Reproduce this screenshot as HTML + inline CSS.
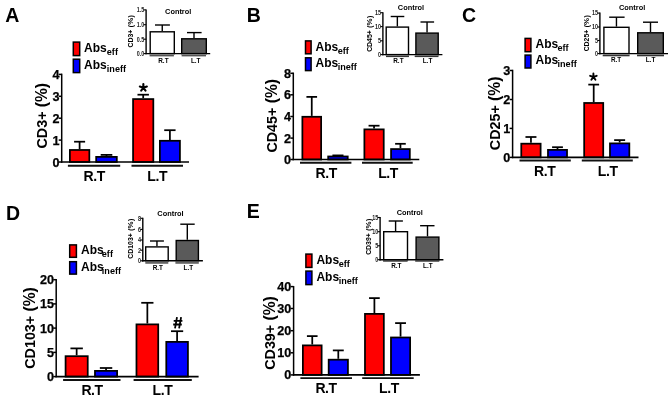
<!DOCTYPE html>
<html><head><meta charset="utf-8"><style>
html,body{margin:0;padding:0;background:#fff;width:669px;height:398px;overflow:hidden}
svg{display:block;font-family:"Liberation Sans", sans-serif;will-change:transform}
</style></head><body>
<svg width="669" height="398" viewBox="0 0 669 398">
<rect width="669" height="398" fill="#fff"/>
<line x1="79.6" y1="149.1" x2="79.6" y2="141.7" stroke="#000" stroke-width="1.75"/>
<line x1="74.09" y1="141.7" x2="85.11" y2="141.7" stroke="#000" stroke-width="1.75"/>
<rect x="69.88" y="149.97" width="19.45" height="12.03" fill="#ff0000" stroke="#000" stroke-width="1.75"/>
<line x1="106.5" y1="156" x2="106.5" y2="154.9" stroke="#000" stroke-width="1.75"/>
<line x1="100.68" y1="154.9" x2="112.32" y2="154.9" stroke="#000" stroke-width="1.75"/>
<rect x="96.17" y="156.88" width="20.65" height="5.12" fill="#0000ff" stroke="#000" stroke-width="1.75"/>
<line x1="143.2" y1="98.2" x2="143.2" y2="94.7" stroke="#000" stroke-width="1.75"/>
<line x1="137.48" y1="94.7" x2="148.92" y2="94.7" stroke="#000" stroke-width="1.75"/>
<rect x="133.07" y="99.08" width="20.25" height="62.92" fill="#ff0000" stroke="#000" stroke-width="1.75"/>
<line x1="169.9" y1="139.9" x2="169.9" y2="130.2" stroke="#000" stroke-width="1.75"/>
<line x1="164.23" y1="130.2" x2="175.57" y2="130.2" stroke="#000" stroke-width="1.75"/>
<rect x="159.88" y="140.78" width="20.05" height="21.22" fill="#0000ff" stroke="#000" stroke-width="1.75"/>
<line x1="61.7" y1="73.65" x2="61.7" y2="162.75" stroke="#000" stroke-width="1.5"/>
<line x1="60.95" y1="162" x2="189" y2="162" stroke="#000" stroke-width="1.6"/>
<line x1="58.7" y1="162" x2="61.7" y2="162" stroke="#000" stroke-width="1.5"/>
<text x="59.4" y="166.5" font-size="12.6" font-weight="bold" text-anchor="end" stroke="#000" stroke-width="0.25">0</text>
<line x1="58.7" y1="140.1" x2="61.7" y2="140.1" stroke="#000" stroke-width="1.5"/>
<text x="59.4" y="144.6" font-size="12.6" font-weight="bold" text-anchor="end" stroke="#000" stroke-width="0.25">1</text>
<line x1="58.7" y1="118.2" x2="61.7" y2="118.2" stroke="#000" stroke-width="1.5"/>
<text x="59.4" y="122.7" font-size="12.6" font-weight="bold" text-anchor="end" stroke="#000" stroke-width="0.25">2</text>
<line x1="58.7" y1="96.3" x2="61.7" y2="96.3" stroke="#000" stroke-width="1.5"/>
<text x="59.4" y="100.8" font-size="12.6" font-weight="bold" text-anchor="end" stroke="#000" stroke-width="0.25">3</text>
<line x1="58.7" y1="74.4" x2="61.7" y2="74.4" stroke="#000" stroke-width="1.5"/>
<text x="59.4" y="78.9" font-size="12.6" font-weight="bold" text-anchor="end" stroke="#000" stroke-width="0.25">4</text>
<line x1="67.9" y1="165.8" x2="120.2" y2="165.8" stroke="#111" stroke-width="1.9"/>
<line x1="131.5" y1="165.8" x2="183" y2="165.8" stroke="#111" stroke-width="1.9"/>
<text x="94.2" y="180.5" font-size="14" font-weight="bold" text-anchor="middle" letter-spacing="-0.4">R.T</text>
<text x="157.2" y="180.5" font-size="14" font-weight="bold" text-anchor="middle" letter-spacing="-0.4">L.T</text>
<text transform="translate(47.2,115.7) rotate(-90)" font-size="14.3" font-weight="bold" text-anchor="middle">CD3+<tspan font-size="15.6"> (%)</tspan></text>
<rect x="73.3" y="42.1" width="6.4" height="13.5" fill="#ff0000" stroke="#000" stroke-width="1.5"/>
<rect x="73.3" y="59.2" width="6.4" height="13.4" fill="#0000ff" stroke="#000" stroke-width="1.5"/>
<text x="84.1" y="51.7" font-size="12" font-weight="bold" text-anchor="start" >Abs</text>
<text x="106.8" y="54.8" font-size="9.1" font-weight="bold" text-anchor="start" >eff</text>
<text x="84.1" y="68.5" font-size="12" font-weight="bold" text-anchor="start" >Abs</text>
<text x="106.8" y="71.6" font-size="9.1" font-weight="bold" text-anchor="start" >ineff</text>
<text x="5.2" y="22" font-size="19.5" font-weight="bold" text-anchor="start" >A</text>
<path d="M143.35 87.75 L143.35 84.05 M143.35 87.75 L146.87 86.61 M143.35 87.75 L139.83 86.61 M143.35 87.75 L145.52 90.74 M143.35 87.75 L141.18 90.74" stroke="#000" stroke-width="2.1" stroke-linecap="round" fill="none"/>
<line x1="311.75" y1="115.9" x2="311.75" y2="96.9" stroke="#000" stroke-width="1.75"/>
<line x1="306.42" y1="96.9" x2="317.08" y2="96.9" stroke="#000" stroke-width="1.75"/>
<rect x="302.38" y="116.78" width="18.75" height="42.72" fill="#ff0000" stroke="#000" stroke-width="1.75"/>
<line x1="337.95" y1="155.6" x2="337.95" y2="155.4" stroke="#000" stroke-width="1.75"/>
<line x1="332.41" y1="155.4" x2="343.49" y2="155.4" stroke="#000" stroke-width="1.75"/>
<rect x="328.18" y="156.47" width="19.55" height="3.03" fill="#0000ff" stroke="#000" stroke-width="1.75"/>
<line x1="374.05" y1="128.5" x2="374.05" y2="125.7" stroke="#000" stroke-width="1.75"/>
<line x1="368.56" y1="125.7" x2="379.54" y2="125.7" stroke="#000" stroke-width="1.75"/>
<rect x="364.38" y="129.38" width="19.35" height="30.12" fill="#ff0000" stroke="#000" stroke-width="1.75"/>
<line x1="400.45" y1="148.2" x2="400.45" y2="143.8" stroke="#000" stroke-width="1.75"/>
<line x1="395.12" y1="143.8" x2="405.78" y2="143.8" stroke="#000" stroke-width="1.75"/>
<rect x="391.07" y="149.07" width="18.75" height="10.43" fill="#0000ff" stroke="#000" stroke-width="1.75"/>
<line x1="293.3" y1="72.55" x2="293.3" y2="160.25" stroke="#000" stroke-width="1.5"/>
<line x1="292.55" y1="159.5" x2="419.3" y2="159.5" stroke="#000" stroke-width="1.6"/>
<line x1="290.3" y1="159.5" x2="293.3" y2="159.5" stroke="#000" stroke-width="1.5"/>
<text x="291" y="164" font-size="12.6" font-weight="bold" text-anchor="end" stroke="#000" stroke-width="0.25">0</text>
<line x1="290.3" y1="138.1" x2="293.3" y2="138.1" stroke="#000" stroke-width="1.5"/>
<text x="291" y="142.6" font-size="12.6" font-weight="bold" text-anchor="end" stroke="#000" stroke-width="0.25">2</text>
<line x1="290.3" y1="116.5" x2="293.3" y2="116.5" stroke="#000" stroke-width="1.5"/>
<text x="291" y="121" font-size="12.6" font-weight="bold" text-anchor="end" stroke="#000" stroke-width="0.25">4</text>
<line x1="290.3" y1="94.8" x2="293.3" y2="94.8" stroke="#000" stroke-width="1.5"/>
<text x="291" y="99.3" font-size="12.6" font-weight="bold" text-anchor="end" stroke="#000" stroke-width="0.25">6</text>
<line x1="290.3" y1="73.3" x2="293.3" y2="73.3" stroke="#000" stroke-width="1.5"/>
<text x="291" y="77.8" font-size="12.6" font-weight="bold" text-anchor="end" stroke="#000" stroke-width="0.25">8</text>
<line x1="300" y1="162.8" x2="351.4" y2="162.8" stroke="#111" stroke-width="1.9"/>
<line x1="362" y1="162.8" x2="412.7" y2="162.8" stroke="#111" stroke-width="1.9"/>
<text x="326.2" y="178" font-size="14" font-weight="bold" text-anchor="middle" letter-spacing="-0.4">R.T</text>
<text x="388.1" y="178" font-size="14" font-weight="bold" text-anchor="middle" letter-spacing="-0.4">L.T</text>
<text transform="translate(277,115.8) rotate(-90)" font-size="14.3" font-weight="bold" text-anchor="middle">CD45+<tspan font-size="15.6"> (%)</tspan></text>
<rect x="305.5" y="40.9" width="5.6" height="12.9" fill="#ff0000" stroke="#000" stroke-width="1.5"/>
<rect x="305.5" y="57.8" width="5.6" height="12.8" fill="#0000ff" stroke="#000" stroke-width="1.5"/>
<text x="315.6" y="50.9" font-size="12" font-weight="bold" text-anchor="start" >Abs</text>
<text x="337.7" y="54" font-size="9.1" font-weight="bold" text-anchor="start" >eff</text>
<text x="315.6" y="67.3" font-size="12" font-weight="bold" text-anchor="start" >Abs</text>
<text x="337.7" y="70.4" font-size="9.1" font-weight="bold" text-anchor="start" >ineff</text>
<text x="246.8" y="21.7" font-size="19.5" font-weight="bold" text-anchor="start" >B</text>
<line x1="530.95" y1="142.8" x2="530.95" y2="137" stroke="#000" stroke-width="1.75"/>
<line x1="525.46" y1="137" x2="536.44" y2="137" stroke="#000" stroke-width="1.75"/>
<rect x="521.27" y="143.68" width="19.35" height="13.72" fill="#ff0000" stroke="#000" stroke-width="1.75"/>
<line x1="557.5" y1="149" x2="557.5" y2="147.2" stroke="#000" stroke-width="1.75"/>
<line x1="552.09" y1="147.2" x2="562.91" y2="147.2" stroke="#000" stroke-width="1.75"/>
<rect x="547.98" y="149.88" width="19.05" height="7.53" fill="#0000ff" stroke="#000" stroke-width="1.75"/>
<line x1="593.7" y1="102.1" x2="593.7" y2="84.6" stroke="#000" stroke-width="1.75"/>
<line x1="588.29" y1="84.6" x2="599.11" y2="84.6" stroke="#000" stroke-width="1.75"/>
<rect x="584.17" y="102.97" width="19.05" height="54.43" fill="#ff0000" stroke="#000" stroke-width="1.75"/>
<line x1="619.65" y1="142.5" x2="619.65" y2="140.1" stroke="#000" stroke-width="1.75"/>
<line x1="614.16" y1="140.1" x2="625.14" y2="140.1" stroke="#000" stroke-width="1.75"/>
<rect x="609.98" y="143.38" width="19.35" height="14.03" fill="#0000ff" stroke="#000" stroke-width="1.75"/>
<line x1="512.6" y1="69.75" x2="512.6" y2="158.15" stroke="#000" stroke-width="1.5"/>
<line x1="511.85" y1="157.4" x2="638.5" y2="157.4" stroke="#000" stroke-width="1.6"/>
<line x1="509.6" y1="157.4" x2="512.6" y2="157.4" stroke="#000" stroke-width="1.5"/>
<text x="510.3" y="161.9" font-size="12.6" font-weight="bold" text-anchor="end" stroke="#000" stroke-width="0.25">0</text>
<line x1="509.6" y1="128.4" x2="512.6" y2="128.4" stroke="#000" stroke-width="1.5"/>
<text x="510.3" y="132.9" font-size="12.6" font-weight="bold" text-anchor="end" stroke="#000" stroke-width="0.25">1</text>
<line x1="509.6" y1="99.5" x2="512.6" y2="99.5" stroke="#000" stroke-width="1.5"/>
<text x="510.3" y="104" font-size="12.6" font-weight="bold" text-anchor="end" stroke="#000" stroke-width="0.25">2</text>
<line x1="509.6" y1="70.5" x2="512.6" y2="70.5" stroke="#000" stroke-width="1.5"/>
<text x="510.3" y="75" font-size="12.6" font-weight="bold" text-anchor="end" stroke="#000" stroke-width="0.25">3</text>
<line x1="519.5" y1="160.5" x2="570.8" y2="160.5" stroke="#111" stroke-width="1.9"/>
<line x1="581.8" y1="160.5" x2="632.8" y2="160.5" stroke="#111" stroke-width="1.9"/>
<text x="544.7" y="175.5" font-size="14" font-weight="bold" text-anchor="middle" letter-spacing="-0.4">R.T</text>
<text x="607.7" y="175.5" font-size="14" font-weight="bold" text-anchor="middle" letter-spacing="-0.4">L.T</text>
<text transform="translate(499.5,113.4) rotate(-90)" font-size="14.3" font-weight="bold" text-anchor="middle">CD25+<tspan font-size="15.6"> (%)</tspan></text>
<rect x="525.1" y="38.4" width="5.8" height="13.3" fill="#ff0000" stroke="#000" stroke-width="1.5"/>
<rect x="525.1" y="55.1" width="5.8" height="12.9" fill="#0000ff" stroke="#000" stroke-width="1.5"/>
<text x="535.6" y="47.6" font-size="12" font-weight="bold" text-anchor="start" >Abs</text>
<text x="557.5" y="50.7" font-size="9.1" font-weight="bold" text-anchor="start" >eff</text>
<text x="535.6" y="64.2" font-size="12" font-weight="bold" text-anchor="start" >Abs</text>
<text x="557.5" y="67.3" font-size="9.1" font-weight="bold" text-anchor="start" >ineff</text>
<text x="462" y="22" font-size="19.5" font-weight="bold" text-anchor="start" >C</text>
<path d="M593.4 76.9 L593.4 73.45 M593.4 76.9 L596.68 75.83 M593.4 76.9 L590.12 75.83 M593.4 76.9 L595.43 79.69 M593.4 76.9 L591.37 79.69" stroke="#000" stroke-width="1.9" stroke-linecap="round" fill="none"/>
<line x1="76.65" y1="355.3" x2="76.65" y2="348.4" stroke="#000" stroke-width="1.75"/>
<line x1="70.44" y1="348.4" x2="82.86" y2="348.4" stroke="#000" stroke-width="1.75"/>
<rect x="65.58" y="356.18" width="22.15" height="20.43" fill="#ff0000" stroke="#000" stroke-width="1.75"/>
<line x1="106.05" y1="370" x2="106.05" y2="368" stroke="#000" stroke-width="1.75"/>
<line x1="99.84" y1="368" x2="112.26" y2="368" stroke="#000" stroke-width="1.75"/>
<rect x="94.97" y="370.88" width="22.15" height="5.73" fill="#0000ff" stroke="#000" stroke-width="1.75"/>
<line x1="147.35" y1="323.5" x2="147.35" y2="302.8" stroke="#000" stroke-width="1.75"/>
<line x1="141.24" y1="302.8" x2="153.46" y2="302.8" stroke="#000" stroke-width="1.75"/>
<rect x="136.47" y="324.38" width="21.75" height="52.23" fill="#ff0000" stroke="#000" stroke-width="1.75"/>
<line x1="177.1" y1="341" x2="177.1" y2="331.2" stroke="#000" stroke-width="1.75"/>
<line x1="171.02" y1="331.2" x2="183.18" y2="331.2" stroke="#000" stroke-width="1.75"/>
<rect x="166.28" y="341.88" width="21.65" height="34.73" fill="#0000ff" stroke="#000" stroke-width="1.75"/>
<line x1="56.2" y1="278.95" x2="56.2" y2="377.35" stroke="#000" stroke-width="1.5"/>
<line x1="55.45" y1="376.6" x2="198.6" y2="376.6" stroke="#000" stroke-width="1.6"/>
<line x1="53.2" y1="376.6" x2="56.2" y2="376.6" stroke="#000" stroke-width="1.5"/>
<text x="53.9" y="381.1" font-size="12.6" font-weight="bold" text-anchor="end" stroke="#000" stroke-width="0.25">0</text>
<line x1="53.2" y1="352.4" x2="56.2" y2="352.4" stroke="#000" stroke-width="1.5"/>
<text x="53.9" y="356.9" font-size="12.6" font-weight="bold" text-anchor="end" stroke="#000" stroke-width="0.25">5</text>
<line x1="53.2" y1="328.1" x2="56.2" y2="328.1" stroke="#000" stroke-width="1.5"/>
<text x="53.9" y="332.6" font-size="12.6" font-weight="bold" text-anchor="end" stroke="#000" stroke-width="0.25">10</text>
<line x1="53.2" y1="303.9" x2="56.2" y2="303.9" stroke="#000" stroke-width="1.5"/>
<text x="53.9" y="308.4" font-size="12.6" font-weight="bold" text-anchor="end" stroke="#000" stroke-width="0.25">15</text>
<line x1="53.2" y1="279.7" x2="56.2" y2="279.7" stroke="#000" stroke-width="1.5"/>
<text x="53.9" y="284.2" font-size="12.6" font-weight="bold" text-anchor="end" stroke="#000" stroke-width="0.25">20</text>
<line x1="63.1" y1="380" x2="120.5" y2="380" stroke="#111" stroke-width="1.9"/>
<line x1="133.6" y1="380" x2="191.8" y2="380" stroke="#111" stroke-width="1.9"/>
<text x="92.1" y="395" font-size="14" font-weight="bold" text-anchor="middle" letter-spacing="-0.4">R.T</text>
<text x="162.5" y="395" font-size="14" font-weight="bold" text-anchor="middle" letter-spacing="-0.4">L.T</text>
<text transform="translate(34.5,328) rotate(-90)" font-size="14.3" font-weight="bold" text-anchor="middle">CD103+<tspan font-size="15.6"> (%)</tspan></text>
<rect x="69.7" y="244.9" width="6.7" height="12.4" fill="#ff0000" stroke="#000" stroke-width="1.5"/>
<rect x="69.7" y="261.7" width="6.7" height="12.4" fill="#0000ff" stroke="#000" stroke-width="1.5"/>
<text x="81.1" y="253.8" font-size="12" font-weight="bold" text-anchor="start" >Abs</text>
<text x="101.8" y="256.9" font-size="9.1" font-weight="bold" text-anchor="start" >eff</text>
<text x="81.1" y="270.6" font-size="12" font-weight="bold" text-anchor="start" >Abs</text>
<text x="101.8" y="273.7" font-size="9.1" font-weight="bold" text-anchor="start" >ineff</text>
<text x="6" y="220.1" font-size="19.5" font-weight="bold" text-anchor="start" >D</text>
<path d="M177 317.2 L175 328.3 M181.1 317.2 L179.1 328.3 M173.7 320.8 L182.4 320.8 M173.2 324.5 L181.8 324.5" stroke="#000" stroke-width="1.8" fill="none"/>
<line x1="312.25" y1="344.5" x2="312.25" y2="336.1" stroke="#000" stroke-width="1.75"/>
<line x1="306.92" y1="336.1" x2="317.58" y2="336.1" stroke="#000" stroke-width="1.75"/>
<rect x="302.88" y="345.38" width="18.75" height="29.52" fill="#ff0000" stroke="#000" stroke-width="1.75"/>
<line x1="338.3" y1="358.8" x2="338.3" y2="350.4" stroke="#000" stroke-width="1.75"/>
<line x1="332.84" y1="350.4" x2="343.76" y2="350.4" stroke="#000" stroke-width="1.75"/>
<rect x="328.68" y="359.68" width="19.25" height="15.22" fill="#0000ff" stroke="#000" stroke-width="1.75"/>
<line x1="374.4" y1="313" x2="374.4" y2="298.1" stroke="#000" stroke-width="1.75"/>
<line x1="369.04" y1="298.1" x2="379.76" y2="298.1" stroke="#000" stroke-width="1.75"/>
<rect x="364.98" y="313.88" width="18.85" height="61.02" fill="#ff0000" stroke="#000" stroke-width="1.75"/>
<line x1="400.55" y1="336.6" x2="400.55" y2="323.1" stroke="#000" stroke-width="1.75"/>
<line x1="395.12" y1="323.1" x2="405.98" y2="323.1" stroke="#000" stroke-width="1.75"/>
<rect x="390.98" y="337.48" width="19.15" height="37.42" fill="#0000ff" stroke="#000" stroke-width="1.75"/>
<line x1="293.6" y1="286.05" x2="293.6" y2="375.65" stroke="#000" stroke-width="1.5"/>
<line x1="292.85" y1="374.9" x2="419.9" y2="374.9" stroke="#000" stroke-width="1.6"/>
<line x1="290.6" y1="374.9" x2="293.6" y2="374.9" stroke="#000" stroke-width="1.5"/>
<text x="291.3" y="379.4" font-size="12.6" font-weight="bold" text-anchor="end" stroke="#000" stroke-width="0.25">0</text>
<line x1="290.6" y1="352.8" x2="293.6" y2="352.8" stroke="#000" stroke-width="1.5"/>
<text x="291.3" y="357.3" font-size="12.6" font-weight="bold" text-anchor="end" stroke="#000" stroke-width="0.25">10</text>
<line x1="290.6" y1="330.7" x2="293.6" y2="330.7" stroke="#000" stroke-width="1.5"/>
<text x="291.3" y="335.2" font-size="12.6" font-weight="bold" text-anchor="end" stroke="#000" stroke-width="0.25">20</text>
<line x1="290.6" y1="308.5" x2="293.6" y2="308.5" stroke="#000" stroke-width="1.5"/>
<text x="291.3" y="313" font-size="12.6" font-weight="bold" text-anchor="end" stroke="#000" stroke-width="0.25">30</text>
<line x1="290.6" y1="286.6" x2="293.6" y2="286.6" stroke="#000" stroke-width="1.5"/>
<text x="291.3" y="291.1" font-size="12.6" font-weight="bold" text-anchor="end" stroke="#000" stroke-width="0.25">40</text>
<line x1="300.4" y1="378.1" x2="352" y2="378.1" stroke="#111" stroke-width="1.9"/>
<line x1="362.2" y1="378.1" x2="413.7" y2="378.1" stroke="#111" stroke-width="1.9"/>
<text x="326.1" y="393.2" font-size="14" font-weight="bold" text-anchor="middle" letter-spacing="-0.4">R.T</text>
<text x="389" y="393.2" font-size="14" font-weight="bold" text-anchor="middle" letter-spacing="-0.4">L.T</text>
<text transform="translate(274.8,333) rotate(-90)" font-size="14.3" font-weight="bold" text-anchor="middle">CD39+<tspan font-size="15.6"> (%)</tspan></text>
<rect x="305.9" y="254.1" width="6" height="13.3" fill="#ff0000" stroke="#000" stroke-width="1.5"/>
<rect x="305.9" y="271.1" width="6" height="13.5" fill="#0000ff" stroke="#000" stroke-width="1.5"/>
<text x="316.4" y="263.9" font-size="12" font-weight="bold" text-anchor="start" >Abs</text>
<text x="338.7" y="267" font-size="9.1" font-weight="bold" text-anchor="start" >eff</text>
<text x="316.4" y="280.8" font-size="12" font-weight="bold" text-anchor="start" >Abs</text>
<text x="338.7" y="283.9" font-size="9.1" font-weight="bold" text-anchor="start" >ineff</text>
<text x="246.8" y="218.4" font-size="19.5" font-weight="bold" text-anchor="start" >E</text>
<line x1="162.25" y1="31.1" x2="162.25" y2="25" stroke="#000" stroke-width="1.4"/>
<line x1="155" y1="25" x2="169.9" y2="25" stroke="#000" stroke-width="1.4"/>
<rect x="150.2" y="31.8" width="24.1" height="21.8" fill="#fff" stroke="#000" stroke-width="1.4"/>
<line x1="194" y1="38.1" x2="194" y2="32.6" stroke="#000" stroke-width="1.4"/>
<line x1="187" y1="32.6" x2="201.6" y2="32.6" stroke="#000" stroke-width="1.4"/>
<rect x="181.7" y="38.8" width="24.6" height="14.8" fill="#5a5a5a" stroke="#000" stroke-width="1.4"/>
<line x1="146.1" y1="9.4" x2="146.1" y2="54.3" stroke="#000" stroke-width="1.4"/>
<line x1="145.4" y1="53.6" x2="210.2" y2="53.6" stroke="#000" stroke-width="1.4"/>
<line x1="143.6" y1="53.6" x2="146.1" y2="53.6" stroke="#000" stroke-width="1.12"/>
<text transform="translate(144.3,55.9) scale(0.82,1)" font-size="6.6" font-weight="bold" text-anchor="end" fill="#222">0.0</text>
<line x1="143.6" y1="39.2" x2="146.1" y2="39.2" stroke="#000" stroke-width="1.12"/>
<text transform="translate(144.3,41.5) scale(0.82,1)" font-size="6.6" font-weight="bold" text-anchor="end" fill="#222">0.5</text>
<line x1="143.6" y1="24.7" x2="146.1" y2="24.7" stroke="#000" stroke-width="1.12"/>
<text transform="translate(144.3,27) scale(0.82,1)" font-size="6.6" font-weight="bold" text-anchor="end" fill="#222">1.0</text>
<line x1="143.6" y1="9.9" x2="146.1" y2="9.9" stroke="#000" stroke-width="1.12"/>
<text transform="translate(144.3,12.2) scale(0.82,1)" font-size="6.6" font-weight="bold" text-anchor="end" fill="#222">1.5</text>
<line x1="149.6" y1="55.6" x2="173.9" y2="55.6" stroke="#555" stroke-width="1.6"/>
<line x1="181.6" y1="55.6" x2="206" y2="55.6" stroke="#555" stroke-width="1.6"/>
<text x="163.4" y="62.8" font-size="6.4" font-weight="bold" text-anchor="middle" >R.T</text>
<text x="195.7" y="62.8" font-size="6.4" font-weight="bold" text-anchor="middle" >L.T</text>
<text x="178.2" y="14" font-size="7.4" font-weight="bold" text-anchor="middle" >Control</text>
<text transform="translate(132.6,31.3) rotate(-90)" font-size="6.9" font-weight="bold" text-anchor="middle">CD3+<tspan font-size="7.9"> (%)</tspan></text>
<line x1="397.35" y1="26.4" x2="397.35" y2="16.5" stroke="#000" stroke-width="1.4"/>
<line x1="390.7" y1="16.5" x2="404.3" y2="16.5" stroke="#000" stroke-width="1.4"/>
<rect x="386.2" y="27.1" width="22.3" height="27.5" fill="#fff" stroke="#000" stroke-width="1.4"/>
<line x1="427.05" y1="32.4" x2="427.05" y2="22" stroke="#000" stroke-width="1.4"/>
<line x1="420.5" y1="22" x2="434.1" y2="22" stroke="#000" stroke-width="1.4"/>
<rect x="415.9" y="33.1" width="22.3" height="21.5" fill="#5a5a5a" stroke="#000" stroke-width="1.4"/>
<line x1="382.9" y1="12.2" x2="382.9" y2="55.3" stroke="#000" stroke-width="1.4"/>
<line x1="382.2" y1="54.6" x2="442.4" y2="54.6" stroke="#000" stroke-width="1.4"/>
<line x1="380.4" y1="54.6" x2="382.9" y2="54.6" stroke="#000" stroke-width="1.12"/>
<text transform="translate(381.1,56.9) scale(0.82,1)" font-size="6.6" font-weight="bold" text-anchor="end" fill="#222">0</text>
<line x1="380.4" y1="40.8" x2="382.9" y2="40.8" stroke="#000" stroke-width="1.12"/>
<text transform="translate(381.1,43.1) scale(0.82,1)" font-size="6.6" font-weight="bold" text-anchor="end" fill="#222">5</text>
<line x1="380.4" y1="26.6" x2="382.9" y2="26.6" stroke="#000" stroke-width="1.12"/>
<text transform="translate(381.1,28.9) scale(0.82,1)" font-size="6.6" font-weight="bold" text-anchor="end" fill="#222">10</text>
<line x1="380.4" y1="12.7" x2="382.9" y2="12.7" stroke="#000" stroke-width="1.12"/>
<text transform="translate(381.1,15) scale(0.82,1)" font-size="6.6" font-weight="bold" text-anchor="end" fill="#222">15</text>
<line x1="386" y1="56.4" x2="409" y2="56.4" stroke="#333" stroke-width="1.4"/>
<line x1="414.7" y1="56.4" x2="438.5" y2="56.4" stroke="#333" stroke-width="1.4"/>
<text x="398.4" y="62.8" font-size="6.4" font-weight="bold" text-anchor="middle" >R.T</text>
<text x="427.5" y="62.8" font-size="6.4" font-weight="bold" text-anchor="middle" >L.T</text>
<text x="411" y="10.1" font-size="7.4" font-weight="bold" text-anchor="middle" >Control</text>
<text transform="translate(371.5,33.8) rotate(-90)" font-size="6.9" font-weight="bold" text-anchor="middle">CD45+<tspan font-size="7.9"> (%)</tspan></text>
<line x1="616.45" y1="26.6" x2="616.45" y2="17.2" stroke="#000" stroke-width="1.4"/>
<line x1="609.2" y1="17.2" x2="624.6" y2="17.2" stroke="#000" stroke-width="1.4"/>
<rect x="603.9" y="27.3" width="25.1" height="26.3" fill="#fff" stroke="#000" stroke-width="1.4"/>
<line x1="650.5" y1="32.1" x2="650.5" y2="22.2" stroke="#000" stroke-width="1.4"/>
<line x1="643" y1="22.2" x2="658" y2="22.2" stroke="#000" stroke-width="1.4"/>
<rect x="637.7" y="32.8" width="25.6" height="20.8" fill="#5a5a5a" stroke="#000" stroke-width="1.4"/>
<line x1="599.9" y1="12.6" x2="599.9" y2="54.3" stroke="#000" stroke-width="1.4"/>
<line x1="599.2" y1="53.6" x2="668" y2="53.6" stroke="#000" stroke-width="1.4"/>
<line x1="597.4" y1="53.6" x2="599.9" y2="53.6" stroke="#000" stroke-width="1.12"/>
<text transform="translate(598.1,55.9) scale(0.82,1)" font-size="6.6" font-weight="bold" text-anchor="end" fill="#222">0</text>
<line x1="597.4" y1="40.5" x2="599.9" y2="40.5" stroke="#000" stroke-width="1.12"/>
<text transform="translate(598.1,42.8) scale(0.82,1)" font-size="6.6" font-weight="bold" text-anchor="end" fill="#222">5</text>
<line x1="597.4" y1="27" x2="599.9" y2="27" stroke="#000" stroke-width="1.12"/>
<text transform="translate(598.1,29.3) scale(0.82,1)" font-size="6.6" font-weight="bold" text-anchor="end" fill="#222">10</text>
<line x1="597.4" y1="13.1" x2="599.9" y2="13.1" stroke="#000" stroke-width="1.12"/>
<text transform="translate(598.1,15.4) scale(0.82,1)" font-size="6.6" font-weight="bold" text-anchor="end" fill="#222">15</text>
<line x1="602.7" y1="55.6" x2="629.6" y2="55.6" stroke="#333" stroke-width="1.4"/>
<line x1="637" y1="55.6" x2="664" y2="55.6" stroke="#333" stroke-width="1.4"/>
<text x="616.1" y="62.1" font-size="6.4" font-weight="bold" text-anchor="middle" >R.T</text>
<text x="650.5" y="62.1" font-size="6.4" font-weight="bold" text-anchor="middle" >L.T</text>
<text x="632.1" y="10.1" font-size="7.4" font-weight="bold" text-anchor="middle" >Control</text>
<text transform="translate(588.9,33.3) rotate(-90)" font-size="6.9" font-weight="bold" text-anchor="middle">CD25+<tspan font-size="7.9"> (%)</tspan></text>
<line x1="156.95" y1="246.2" x2="156.95" y2="241" stroke="#000" stroke-width="1.4"/>
<line x1="150" y1="241" x2="163.9" y2="241" stroke="#000" stroke-width="1.4"/>
<rect x="145.7" y="246.9" width="22.5" height="13.9" fill="#fff" stroke="#000" stroke-width="1.4"/>
<line x1="187.3" y1="239.8" x2="187.3" y2="224.2" stroke="#000" stroke-width="1.4"/>
<line x1="180.3" y1="224.2" x2="194.7" y2="224.2" stroke="#000" stroke-width="1.4"/>
<rect x="176.2" y="240.5" width="22.2" height="20.3" fill="#5a5a5a" stroke="#000" stroke-width="1.4"/>
<line x1="142.8" y1="217.8" x2="142.8" y2="261.5" stroke="#000" stroke-width="1.4"/>
<line x1="142.1" y1="260.8" x2="202.9" y2="260.8" stroke="#000" stroke-width="1.4"/>
<line x1="140.3" y1="260.8" x2="142.8" y2="260.8" stroke="#000" stroke-width="1.12"/>
<text transform="translate(141,263.1) scale(0.82,1)" font-size="6.6" font-weight="bold" text-anchor="end" fill="#222">0</text>
<line x1="140.3" y1="250.2" x2="142.8" y2="250.2" stroke="#000" stroke-width="1.12"/>
<text transform="translate(141,252.5) scale(0.82,1)" font-size="6.6" font-weight="bold" text-anchor="end" fill="#222">2</text>
<line x1="140.3" y1="240" x2="142.8" y2="240" stroke="#000" stroke-width="1.12"/>
<text transform="translate(141,242.3) scale(0.82,1)" font-size="6.6" font-weight="bold" text-anchor="end" fill="#222">4</text>
<line x1="140.3" y1="229.4" x2="142.8" y2="229.4" stroke="#000" stroke-width="1.12"/>
<text transform="translate(141,231.7) scale(0.82,1)" font-size="6.6" font-weight="bold" text-anchor="end" fill="#222">6</text>
<line x1="140.3" y1="218.3" x2="142.8" y2="218.3" stroke="#000" stroke-width="1.12"/>
<text transform="translate(141,220.6) scale(0.82,1)" font-size="6.6" font-weight="bold" text-anchor="end" fill="#222">8</text>
<line x1="145.3" y1="262.7" x2="168.3" y2="262.7" stroke="#666" stroke-width="2.2"/>
<line x1="175.4" y1="262.7" x2="198.8" y2="262.7" stroke="#666" stroke-width="2.2"/>
<text x="157.8" y="269.9" font-size="6.4" font-weight="bold" text-anchor="middle" >R.T</text>
<text x="188.4" y="269.9" font-size="6.4" font-weight="bold" text-anchor="middle" >L.T</text>
<text x="170.5" y="215.5" font-size="7.4" font-weight="bold" text-anchor="middle" >Control</text>
<text transform="translate(133,238.7) rotate(-90)" font-size="6.9" font-weight="bold" text-anchor="middle">CD103+<tspan font-size="7.9"> (%)</tspan></text>
<line x1="395.6" y1="231" x2="395.6" y2="221" stroke="#000" stroke-width="1.4"/>
<line x1="388.7" y1="221" x2="402.9" y2="221" stroke="#000" stroke-width="1.4"/>
<rect x="383.7" y="231.7" width="23.8" height="28" fill="#fff" stroke="#000" stroke-width="1.4"/>
<line x1="427.5" y1="236.4" x2="427.5" y2="225.7" stroke="#000" stroke-width="1.4"/>
<line x1="420.1" y1="225.7" x2="434.5" y2="225.7" stroke="#000" stroke-width="1.4"/>
<rect x="416.1" y="237.1" width="22.8" height="22.6" fill="#5a5a5a" stroke="#000" stroke-width="1.4"/>
<line x1="380.1" y1="217" x2="380.1" y2="260.4" stroke="#000" stroke-width="1.4"/>
<line x1="379.4" y1="259.7" x2="443.4" y2="259.7" stroke="#000" stroke-width="1.4"/>
<line x1="377.6" y1="259.7" x2="380.1" y2="259.7" stroke="#000" stroke-width="1.12"/>
<text transform="translate(378.3,262) scale(0.82,1)" font-size="6.6" font-weight="bold" text-anchor="end" fill="#222">0</text>
<line x1="377.6" y1="245.8" x2="380.1" y2="245.8" stroke="#000" stroke-width="1.12"/>
<text transform="translate(378.3,248.1) scale(0.82,1)" font-size="6.6" font-weight="bold" text-anchor="end" fill="#222">5</text>
<line x1="377.6" y1="231.7" x2="380.1" y2="231.7" stroke="#000" stroke-width="1.12"/>
<text transform="translate(378.3,234) scale(0.82,1)" font-size="6.6" font-weight="bold" text-anchor="end" fill="#222">10</text>
<line x1="377.6" y1="217.5" x2="380.1" y2="217.5" stroke="#000" stroke-width="1.12"/>
<text transform="translate(378.3,219.8) scale(0.82,1)" font-size="6.6" font-weight="bold" text-anchor="end" fill="#222">15</text>
<line x1="383.1" y1="261" x2="407.6" y2="261" stroke="#333" stroke-width="1.4"/>
<line x1="415.2" y1="261" x2="439.3" y2="261" stroke="#333" stroke-width="1.4"/>
<text x="396.3" y="268.3" font-size="6.4" font-weight="bold" text-anchor="middle" >R.T</text>
<text x="427.8" y="268.3" font-size="6.4" font-weight="bold" text-anchor="middle" >L.T</text>
<text x="409.8" y="214.7" font-size="7.4" font-weight="bold" text-anchor="middle" >Control</text>
<text transform="translate(371,236.8) rotate(-90)" font-size="6.9" font-weight="bold" text-anchor="middle">CD39+<tspan font-size="7.9"> (%)</tspan></text>
</svg></body></html>
